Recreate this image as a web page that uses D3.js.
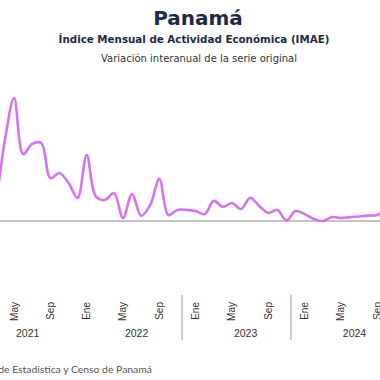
<!DOCTYPE html>
<html>
<head>
<meta charset="utf-8">
<script src="https://cdn.jsdelivr.net/npm/d3@7"></script>
<style>
  html, body { margin: 0; padding: 0; background: #fff; overflow: hidden; }
  svg { display: block; font-family: "DejaVu Sans", sans-serif; }
</style>
</head>
<body>
<div id="chart"></div>
<script>
// Data: interannual variation of IMAE, Panamá (%)
const years = ["2021", "2022", "2023", "2024"];
const monthNames = ["Ene", "Feb", "Mar", "Abr", "May", "Jun", "Jul", "Ago", "Sep", "Oct", "Nov", "Dic"];
const shownMonths = ["Ene", "May", "Sep"];
const yearBreaks = ["2023", "2024"];

const values2021 = [-14, -10, 6, 27, 41, 22.3, 25.7, 26, 14.3, 16, 12.7, 7.7];
const values2022 = [22, 8.3, 7, 9.3, 1, 9, 1.7, 5.3, 14, 2, 3.7, 3.7];
const values2023 = [3.3, 2.3, 6.7, 4.7, 6, 4, 7.7, 5, 2.7, 3.7, 0.2, 3.3];
const values2024 = [2.3, 0.7, 0, 1.3, 1, 1.3, 1.5, 1.8, 2, 4.3];

const title = "Panamá";
const subtitle = "Índice Mensual de Actividad Económica (IMAE)";
const subtitle2 = "Variación interanual de la serie original";
const source = "Fuente: Instituto Nacional de Estadística y Censo de Panamá";

const width = 380, height = 380;

// categories: one per month
const categories = [];
years.forEach(y => monthNames.forEach(m => categories.push(`${y}-${m}`)));

const series = [values2021, values2022, values2023, values2024]
    .flatMap((vals, i) => vals.map((v, j) => ({ key: `${years[i]}-${monthNames[j]}`, value: v })));

const svg = d3.select("#chart").append("svg")
    .attr("width", width)
    .attr("height", height);

// the plot runs wider than the window, like the original
const step = 9.08;
const x = d3.scalePoint()
    .domain(categories)
    .range([-22.3, -22.3 + step * (categories.length - 1)]);

const y = d3.scaleLinear()
    .domain([-23, 45])
    .range([290, 86]);

// Titles
svg.append("text")
    .attr("x", 198).attr("y", 25)
    .attr("text-anchor", "middle")
    .style("font-size", "20px").style("font-weight", 700)
    .attr("fill", "#1c2b47")
    .text(title);

svg.append("text")
    .attr("x", 194).attr("y", 43)
    .attr("text-anchor", "middle")
    .style("font-size", "10.3px").style("font-weight", 700)
    .attr("fill", "#1c2b47")
    .text(subtitle);

svg.append("text")
    .attr("x", 199).attr("y", 62)
    .attr("text-anchor", "middle")
    .style("font-size", "10px")
    .attr("fill", "#333")
    .text(subtitle2);

// zero line
svg.append("line")
    .attr("x1", 0).attr("x2", width)
    .attr("y1", y(0)).attr("y2", y(0))
    .attr("stroke", "#8c8c8c")
    .attr("stroke-width", 1.2);

// line
const line = d3.line()
    .x(d => x(d.key))
    .y(d => y(d.value))
    .curve(d3.curveCatmullRom.alpha(0.5));

svg.append("path")
    .datum(series)
    .attr("d", line)
    .attr("fill", "none")
    .attr("stroke", "#d672f6")
    .attr("stroke-width", 2.6)
    .attr("stroke-linejoin", "round");

// month labels (rotated)
const axis = svg.append("g").attr("class", "x axis")
    .style("font-family", "Liberation Sans, Arial, sans-serif");

axis.selectAll(".month")
    .data(categories.filter(c => shownMonths.includes(c.split("-")[1])))
    .enter().append("text")
    .attr("class", "month")
    .attr("transform", d => `translate(${x(d) + 3.5},302) rotate(-90)`)
    .attr("text-anchor", "end")
    .style("font-size", "10px")
    .attr("fill", "#333")
    .text(d => d.split("-")[1]);

// year labels, centred on their months
axis.selectAll(".year")
    .data(years)
    .enter().append("text")
    .attr("class", "year")
    .attr("x", d => (x(`${d}-Ene`) + x(`${d}-Dic`)) / 2)
    .attr("y", 337)
    .attr("text-anchor", "middle")
    .style("font-size", "10.5px")
    .attr("fill", "#333")
    .text(d => d);

// separators between year groups
axis.selectAll(".sep")
    .data(yearBreaks)
    .enter().append("line")
    .attr("class", "sep")
    .attr("x1", d => x(`${d}-Ene`) - step * 1.5)
    .attr("x2", d => x(`${d}-Ene`) - step * 1.5)
    .attr("y1", 295).attr("y2", 340)
    .attr("stroke", "#999")
    .attr("stroke-width", 1);

// source
svg.append("text")
    .attr("x", 152).attr("y", 373)
    .attr("text-anchor", "end")
    .style("font-family", "Lato, sans-serif")
    .style("font-size", "10.4px")
    .attr("fill", "#555")
    .text(source);
</script>
</body>
</html>
